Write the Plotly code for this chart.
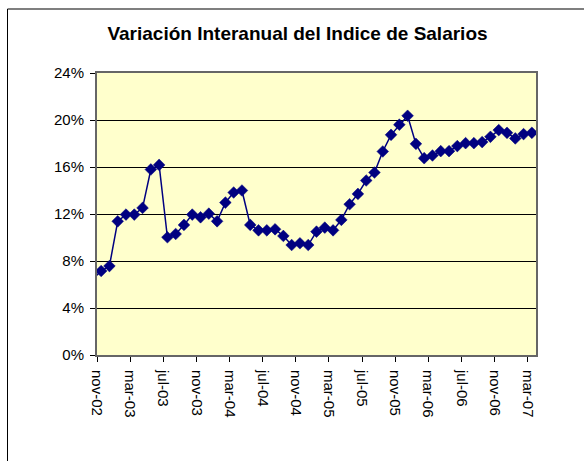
import plotly.graph_objects as go

# Monthly categories (oct-02 is only the clipped lead-in point at the left edge)
months = ["oct-02", "nov-02", "dic-02", "ene-03", "feb-03", "mar-03", "abr-03", "may-03", "jun-03",
          "jul-03", "ago-03", "sep-03", "oct-03", "nov-03", "dic-03", "ene-04", "feb-04",
          "mar-04", "abr-04", "may-04", "jun-04", "jul-04", "ago-04", "sep-04", "oct-04",
          "nov-04", "dic-04", "ene-05", "feb-05", "mar-05", "abr-05", "may-05", "jun-05",
          "jul-05", "ago-05", "sep-05", "oct-05", "nov-05", "dic-05", "ene-06", "feb-06",
          "mar-06", "abr-06", "may-06", "jun-06", "jul-06", "ago-06", "sep-06", "oct-06",
          "nov-06", "dic-06", "ene-07", "feb-07", "mar-07"]
values = [6.48, 7.15, 7.57, 11.38, 11.95, 11.95, 12.52, 15.79, 16.18,
          10.02, 10.30, 11.07, 11.95, 11.72, 12.03, 11.38, 12.97,
          13.83, 14.00, 11.07, 10.61, 10.61, 10.70, 10.13, 9.36,
          9.51, 9.36, 10.50, 10.84, 10.61, 11.50, 12.83, 13.71,
          14.85, 15.53, 17.32, 18.74, 19.60, 20.36, 17.97, 16.75,
          16.98, 17.35, 17.35, 17.78, 18.03, 18.03, 18.12, 18.57,
          19.14, 18.91, 18.43, 18.80, 18.91]
tick_labels = ["nov-02", "mar-03", "jul-03", "nov-03", "mar-04", "jul-04", "nov-04",
               "mar-05", "jul-05", "nov-05", "mar-06", "jul-06", "nov-06", "mar-07"]
y_ticks = [0, 4, 8, 12, 16, 20, 24]

x_idx = list(range(-1, len(months) - 1))  # nov-02 at 0
tick_pos = [months.index(t) - 1 - 0.5 for t in tick_labels]
msize = [0] + [9] * (len(months) - 1)

fig = go.Figure()
fig.add_trace(go.Scatter(
    x=x_idx, y=values, mode="lines+markers",
    line=dict(color="#000080", width=1.5),
    marker=dict(symbol="diamond", size=msize, color="#000080", opacity=1,
                line=dict(color="#000080", width=0.5)),
    text=months, hoverinfo="text+y",
))

W, H = 584, 461
L, R, T, B = 97, 48, 73, 106
pw, ph = W - L - R, H - T - B

def px_x(p):
    return (p - L) / pw

def px_y(p):
    return (H - B - p) / ph

fig.update_layout(
    width=W, height=H,
    margin=dict(l=L, r=R, t=T, b=B),
    paper_bgcolor="white",
    plot_bgcolor="#FFFFCC",
    showlegend=False,
    font=dict(family="Liberation Sans, Arial, sans-serif", color="black"),
    title=dict(text="<b>Variación Interanual del Indice de Salarios</b>",
               x=297.5 / W, xanchor="center", y=1 - 33 / H, yanchor="middle",
               yref="container", xref="container",
               font=dict(size=19, color="black")),
    xaxis=dict(range=[-0.5, len(months) - 1.5], tickmode="array",
               tickvals=tick_pos, ticktext=tick_labels, tickangle=90,
               ticks="outside", ticklen=5, tickcolor="black",
               ticklabelstandoff=5,
               showgrid=False, zeroline=False,
               showline=True, linecolor="#666666", linewidth=2, mirror=True,
               tickfont=dict(size=15)),
    yaxis=dict(range=[0, 24], tickmode="array", tickvals=y_ticks,
               ticktext=[f"{v}%" for v in y_ticks],
               ticks="outside", ticklen=5, tickcolor="black",
               ticklabelstandoff=3,
               showgrid=True, gridcolor="black", gridwidth=1, zeroline=False,
               showline=True, linecolor="#666666", linewidth=2, mirror=True,
               tickfont=dict(size=15)),
    shapes=[
        dict(type="line", xref="paper", yref="paper",
             x0=px_x(7.5), x1=px_x(W + 10), y0=px_y(9), y1=px_y(9),
             line=dict(color="black", width=1.2), layer="above"),
        dict(type="line", xref="paper", yref="paper",
             x0=px_x(7.5), x1=px_x(7.5), y0=px_y(9), y1=px_y(H + 10),
             line=dict(color="black", width=1), layer="above"),
    ],
)

fig.write_html("out.html", config={"displayModeBar": False},
               post_script="document.body.style.margin='0';document.body.style.padding='0';")
